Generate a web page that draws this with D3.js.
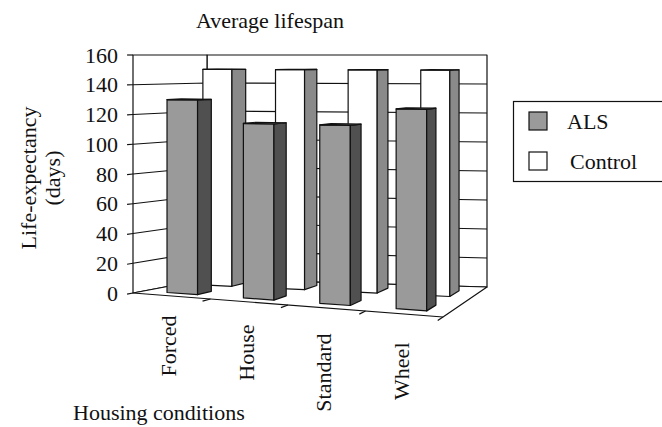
<!DOCTYPE html>
<html>
<head>
<meta charset="utf-8">
<script src="https://cdn.jsdelivr.net/npm/d3@7"></script>
<style>
  body { margin: 0; background: #fff; }
  text { font-family: "Liberation Serif", "Times New Roman", serif; fill: #111; }
</style>
</head>
<body>
<div id="chart"></div>
<script>
// chart data
const categories = ["Forced", "House", "Standard", "Wheel"];
const seriesNames = ["ALS", "Control"];
const alsValues = [130, 115, 115, 126];
const controlValues = [150, 150, 150, 150];
const yTicks = [0, 20, 40, 60, 80, 100, 120, 140, 160];

const width = 662;
const height = 427;
const fontSize = 22;

const svg = d3.select("#chart")
    .append("svg")
    .attr("width", width)
    .attr("height", height);

// screen corners of the 3D box (front/back, bottom/top, left/right)
const box = {
    fbl: [133, 293], fbr: [443, 317], bbl: [207, 279], bbr: [487, 287],
    ftl: [133, 55], ftr: [443, 55], btl: [207, 55], btr: [487, 55]
};

// u: across categories, w: depth (front=0), v: value
const u = d3.scaleBand().domain(categories).range([0, 1]).paddingInner(0.6).paddingOuter(0.3);
const w = d3.scaleBand().domain(seriesNames).range([0, 1]).paddingInner(0.6).paddingOuter(0.3);
const v = d3.scaleLinear().domain([0, 160]).range([0, 1]);

function lerp(a, b, t) { return [a[0] + (b[0] - a[0]) * t, a[1] + (b[1] - a[1]) * t]; }

function P(uu, ww, val) {
    const bottom = lerp(lerp(box.fbl, box.fbr, uu), lerp(box.bbl, box.bbr, uu), ww);
    const top = lerp(lerp(box.ftl, box.ftr, uu), lerp(box.btl, box.btr, uu), ww);
    return lerp(bottom, top, v(val));
}

const line = d3.line();
function poly(g, pts, fill) {
    g.append("path")
        .attr("d", line(pts) + "Z")
        .attr("fill", fill)
        .attr("stroke", "#111")
        .attr("stroke-width", 1.2)
        .attr("stroke-linejoin", "round");
}

const walls = svg.append("g");

// back wall, left wall, floor
poly(walls, [P(0, 1, 0), P(1, 1, 0), P(1, 1, 160), P(0, 1, 160)], "#fff");
poly(walls, [P(0, 0, 0), P(0, 1, 0), P(0, 1, 160), P(0, 0, 160)], "#fff");
poly(walls, [P(0, 0, 0), P(1, 0, 0), P(1, 1, 0), P(0, 1, 0)], "#fff");

// gridlines
yTicks.filter(t => t > 0 && t < 160).forEach(t => {
    walls.append("path")
        .attr("d", line([P(0, 0, t), P(0, 1, t), P(1, 1, t)]))
        .attr("fill", "none")
        .attr("stroke", "#111")
        .attr("stroke-width", 1.2);
});

// value axis ticks and labels
yTicks.forEach(t => {
    walls.append("path")
        .attr("d", line([P(0, 0, t), P(0, -0.08, t)]))
        .attr("stroke", "#111")
        .attr("stroke-width", 1.2);
    const p = P(0, 0, t);
    svg.append("text")
        .attr("x", 118)
        .attr("y", p[1])
        .attr("dy", "0.35em")
        .attr("text-anchor", "end")
        .attr("font-size", fontSize)
        .text(t);
});

// category ticks on front floor edge
[0.25, 0.5, 0.75, 1].forEach(t => {
    walls.append("path")
        .attr("d", line([P(t, 0, 0), P(t, -0.12, 0)]))
        .attr("stroke", "#111")
        .attr("stroke-width", 1.2);
});

// bars: back row first
const seriesData = [
    { name: "Control", values: controlValues, front: "#ffffff", side: "#8a8a8a", top: "#ffffff" },
    { name: "ALS", values: alsValues, front: "#9a9a9a", side: "#505050", top: "#9a9a9a" }
];

const bars = svg.append("g");
seriesData.forEach(s => {
    const w0 = w(s.name), w1 = w0 + w.bandwidth();
    categories.forEach((c, i) => {
        const u0 = u(c), u1 = u0 + u.bandwidth();
        const val = s.values[i];
        poly(bars, [P(u0, w0, 0), P(u1, w0, 0), P(u1, w0, val), P(u0, w0, val)], s.front);
        poly(bars, [P(u1, w0, 0), P(u1, w1, 0), P(u1, w1, val), P(u1, w0, val)], s.side);
        poly(bars, [P(u0, w0, val), P(u1, w0, val), P(u1, w1, val), P(u0, w1, val)], s.top);
    });
});

// category labels (rotated)
categories.forEach((c, i) => {
    const uc = u(c) + u.bandwidth() / 2;
    const p = P(uc, 0, 0);
    svg.append("text")
        .attr("transform", `translate(${p[0] - 3},${p[1] + 18 + uc * 12}) rotate(-90)`)
        .attr("text-anchor", "end")
        .attr("dy", "0.35em")
        .attr("font-size", fontSize)
        .text(c);
});

// titles
svg.append("text")
    .attr("x", 270)
    .attr("y", 28)
    .attr("text-anchor", "middle")
    .attr("font-size", fontSize)
    .text("Average lifespan");

const yTitle = svg.append("text")
    .attr("transform", "translate(28,178) rotate(-90)")
    .attr("text-anchor", "middle")
    .attr("font-size", fontSize);
yTitle.append("tspan").attr("x", 0).attr("dy", "0.35em").text("Life-expectancy");
yTitle.append("tspan").attr("x", 0).attr("dy", "1.1em").text("(days)");

svg.append("text")
    .attr("x", 73)
    .attr("y", 420)
    .attr("font-size", fontSize)
    .text("Housing conditions");

// legend
const legend = svg.append("g");
legend.append("rect")
    .attr("x", 513.5).attr("y", 101.5)
    .attr("width", 160).attr("height", 80)
    .attr("fill", "#fff")
    .attr("stroke", "#111")
    .attr("stroke-width", 1.2);

seriesData.slice().reverse().forEach((s, i) => {
    const cy = 121 + i * 40;
    legend.append("rect")
        .attr("x", 529).attr("y", cy - 9)
        .attr("width", 18).attr("height", 18)
        .attr("fill", s.front)
        .attr("stroke", "#111")
        .attr("stroke-width", 1.2);
    legend.append("text")
        .attr("x", s.name === "ALS" ? 567 : 570)
        .attr("y", cy)
        .attr("dy", "0.35em")
        .attr("font-size", fontSize)
        .text(s.name);
});
</script>
</body>
</html>
